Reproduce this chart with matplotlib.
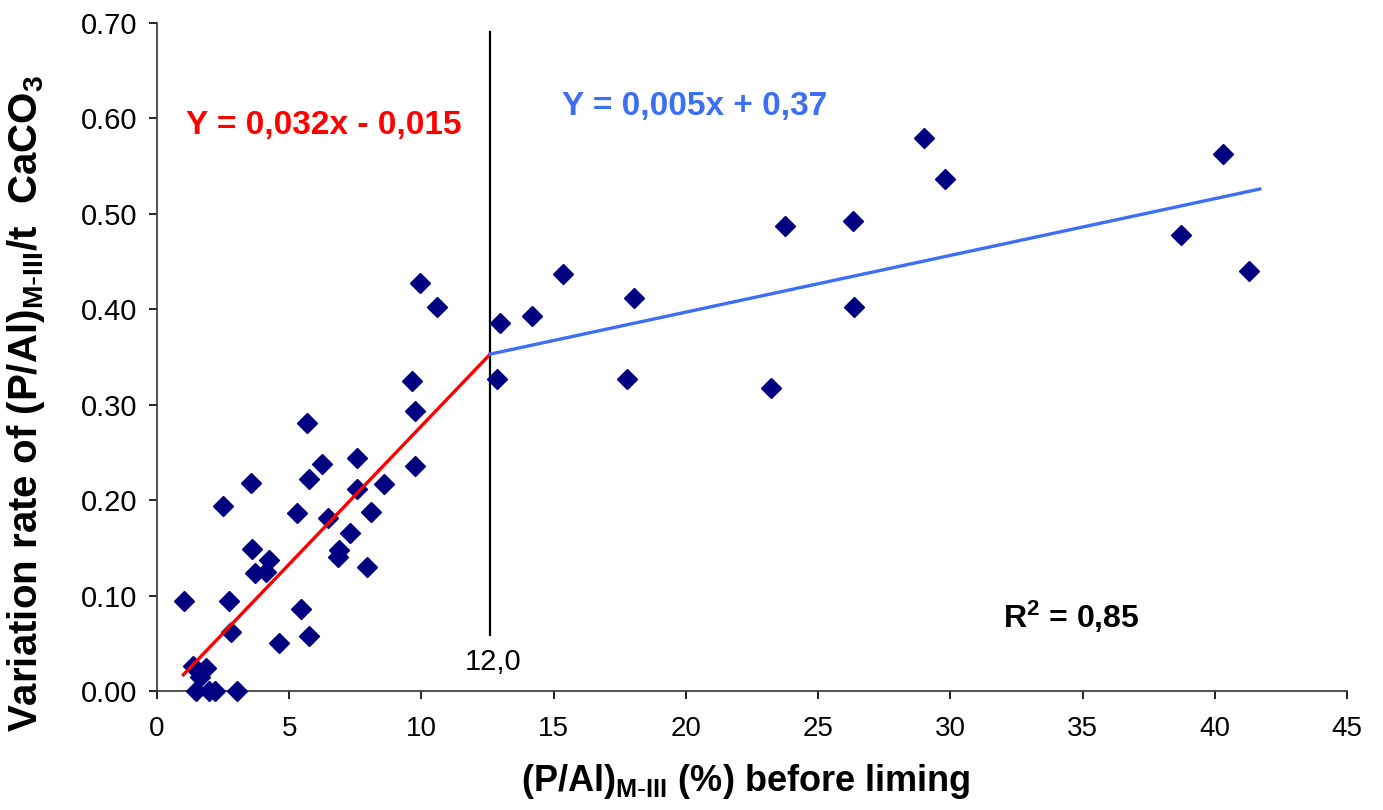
import numpy as np
import matplotlib
matplotlib.use('Agg')
import matplotlib.pyplot as plt
from matplotlib.ticker import FormatStrFormatter

plt.rcParams['font.family'] = ['Liberation Sans', 'DejaVu Sans']
plt.rcParams['mathtext.default'] = 'regular'

# data
pal_x = [9.93, 10.57, 9.64, 9.74, 9.74, 5.66, 3.56, 2.51, 6.24, 5.76,
         7.58, 7.58, 8.59, 5.29, 6.46, 8.11, 7.29, 6.89, 6.84, 7.94,
         3.59, 4.24, 3.69, 4.14, 1.04, 2.71, 2.79, 5.44, 5.76, 4.61,
         1.36, 1.84, 1.64, 1.49, 1.96, 2.21, 3.01,
         12.97, 12.87, 14.18, 15.37, 18.03, 17.77, 23.23, 23.74,
         26.31, 26.37, 29.0, 29.81, 38.74, 40.31, 41.29]
rate_y = [0.428, 0.402, 0.325, 0.293, 0.236, 0.281, 0.218, 0.194, 0.238, 0.222,
          0.244, 0.212, 0.217, 0.186, 0.181, 0.187, 0.165, 0.148, 0.140, 0.130,
          0.149, 0.137, 0.124, 0.125, 0.094, 0.094, 0.062, 0.086, 0.058, 0.050,
          0.026, 0.024, 0.015, 0.0, 0.0, 0.0, 0.0,
          0.386, 0.327, 0.393, 0.437, 0.412, 0.327, 0.318, 0.487,
          0.493, 0.402, 0.579, 0.536, 0.478, 0.563, 0.440]

red_x = [1.0, 12.6]
red_y = [0.017, 0.353]
blue_x = [12.6, 41.7]
blue_y = [0.353, 0.526]
break_x = 12.6
break_y = [0.059, 0.691]

fig = plt.figure(figsize=(13.83, 8.10), dpi=100)
ax = fig.add_axes([0.1135, 0.147, 0.8605, 0.8246])

ax.plot(pal_x, rate_y, linestyle='none', marker='D', markersize=10.5,
        color='#000080', zorder=3, clip_on=False)
ax.plot(red_x, red_y, color='#ff0000', linewidth=2.4, zorder=4)
ax.plot(blue_x, blue_y, color='#3d6ff5', linewidth=2.4, zorder=4)
ax.plot([break_x, break_x], break_y, color='black', linewidth=1.6, zorder=2)

ax.text(11.65, 0.030, '12,0', fontsize=21, ha='left', va='center')
ax.text(1.1, 0.593, 'Y = 0,032x - 0,015', color='#ff0000', fontsize=24,
        fontweight='bold', va='center')
ax.text(15.3, 0.612, 'Y = 0,005x + 0,37', color='#3d6ff5', fontsize=24,
        fontweight='bold', va='center')
ax.text(32.0, 0.078, 'R$^2$ = 0,85', color='black', fontsize=23,
        fontweight='bold', va='center')

ax.set_xlim(0, 45)
ax.set_ylim(0, 0.70)
ax.set_xticks(np.arange(0, 46, 5))
ax.set_yticks(np.arange(0, 0.71, 0.1))
ax.yaxis.set_major_formatter(FormatStrFormatter('%.2f'))
ax.tick_params(direction='out', length=6, width=1.2)
ax.tick_params(axis='y', labelsize=21, pad=8)
ax.tick_params(axis='x', labelsize=20, pad=12)
ax.spines['top'].set_visible(False)
ax.spines['right'].set_visible(False)
ax.spines['left'].set_linewidth(1.2)
ax.spines['bottom'].set_linewidth(1.2)
ax.spines['left'].set_color('#333333')
ax.spines['bottom'].set_color('#333333')

ax.set_xlabel(r'(P/Al)$_{M\text{-}III}$ (%) before liming', fontsize=26,
              fontweight='bold')
ax.set_ylabel(r'Variation rate of (P/Al)$_{M\text{-}III}$/t  CaCO$_3$', fontsize=29,
              fontweight='bold')
ax.xaxis.set_label_coords(0.495, -0.106)
ax.yaxis.set_label_coords(-0.092, 0.43)

fig.savefig('out.png', dpi=100)
